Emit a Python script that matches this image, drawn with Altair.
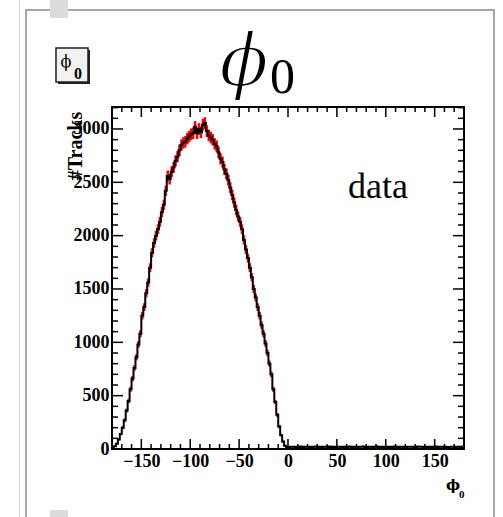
import altair as alt
import numpy as np
import pandas as pd

# Histogram of phi0 (degrees), 2-degree bins over [-180, 180)
phi_lo, phi_hi, bin_w = -180, 180, 2
y_top = 3206

counts_neg = [
    5, 25, 50, 90, 140, 200, 270, 360, 450, 560,
    660, 760, 860, 980, 1080, 1250, 1330, 1460, 1560, 1700,
    1840, 1930, 2000, 2060, 2130, 2220, 2290, 2420, 2560, 2530,
    2600, 2640, 2700, 2740, 2800, 2850, 2870, 2880, 2910, 2930,
    2950, 2960, 3020, 2960, 3000, 2970, 3040, 3055, 2980, 2940,
    2920, 2900, 2860, 2840, 2780, 2720, 2690, 2620, 2580, 2520,
    2450, 2380, 2310, 2240, 2180, 2130, 2060, 1960, 1870, 1790,
    1700, 1610, 1500, 1420, 1330, 1250, 1160, 1080, 990, 900,
    800, 700, 560, 440, 320, 210, 130, 70, 30, 12,
]
counts_pos = [
    18, 22, 20, 17, 21, 19, 23, 18, 20, 22,
    19, 21, 17, 20, 24, 18, 21, 19, 22, 20,
    18, 23, 19, 21, 17, 20, 22, 18, 21, 19,
    20, 23, 18, 22, 19, 17, 21, 20, 24, 18,
    19, 22, 20, 18, 21, 23, 19, 20, 17, 22,
    21, 18, 20, 19, 23, 21, 18, 22, 20, 19,
    17, 21, 20, 22, 18, 19, 23, 20, 21, 18,
    22, 19, 20, 18, 21, 24, 19, 20, 22, 18,
    21, 19, 17, 20, 22, 18, 21, 20, 19, 23,
]
counts = counts_neg + counts_pos

x_major = [-150, -100, -50, 0, 50, 100, 150]
x_minor = [v for v in range(-170, 180, 10) if v not in x_major]
y_major = [0, 500, 1000, 1500, 2000, 2500, 3000]
y_minor = [v for v in range(100, 3201, 100) if v not in y_major]

W, H = 352, 342
serif = "Liberation Serif"
greek = "DejaVu Serif"

centers = np.arange(phi_lo + bin_w / 2, phi_hi, bin_w)
hist = pd.DataFrame({"phi": centers, "n": counts})

xs = alt.Scale(domain=[phi_lo, phi_hi], nice=False, zero=False)
ys = alt.Scale(domain=[0, y_top], nice=False)
one = pd.DataFrame({"k": [0]})

# error bars (red) under the black step histogram
errs = alt.Chart(hist).transform_calculate(
    lo="datum.n - sqrt(datum.n)", hi="datum.n + sqrt(datum.n)"
).mark_rule(color="#ff0000", strokeWidth=2.5).encode(
    x=alt.X("phi:Q", scale=xs, axis=alt.Axis(
        values=x_major, ticks=False, domain=False, grid=False, title=None,
        format="d", labelFont=serif, labelFontWeight="bold", labelFontSize=18,
        labelColor="black", labelPadding=3)),
    y=alt.Y("lo:Q", scale=ys, axis=alt.Axis(
        values=y_major, ticks=False, domain=False, grid=False, title=None,
        format="d", labelFont=serif, labelFontWeight="bold", labelFontSize=18,
        labelColor="black", labelPadding=3)),
    y2="hi:Q",
)

line = alt.Chart(hist).mark_line(
    interpolate="step", color="black", strokeWidth=2
).encode(x=alt.X("phi:Q", scale=xs), y=alt.Y("n:Q", scale=ys))


def xticks(vals, length):
    df = pd.DataFrame({"v": vals})
    bot = alt.Chart(df).mark_rule(color="black", strokeWidth=1.5).encode(
        x=alt.X("v:Q", scale=xs), y=alt.value(H), y2=alt.value(H - length))
    top = alt.Chart(df).mark_rule(color="black", strokeWidth=1.5).encode(
        x=alt.X("v:Q", scale=xs), y=alt.value(0), y2=alt.value(length))
    return [bot, top]


def yticks(vals, length):
    df = pd.DataFrame({"v": vals})
    left = alt.Chart(df).mark_rule(color="black", strokeWidth=1.5).encode(
        y=alt.Y("v:Q", scale=ys), x=alt.value(0), x2=alt.value(length))
    right = alt.Chart(df).mark_rule(color="black", strokeWidth=1.5).encode(
        y=alt.Y("v:Q", scale=ys), x=alt.value(W), x2=alt.value(W - length))
    return [left, right]


ticks = xticks(x_major, 10) + xticks(x_minor, 5) + yticks(y_major, 11) + yticks(y_minor, 6)


def label(text, x, y, **kw):
    kw.setdefault("color", "black")
    return alt.Chart(one).mark_text(text=text, **kw).encode(
        x=alt.value(x), y=alt.value(y))


def box(x1, x2, y1, y2, **kw):
    return alt.Chart(one).mark_rect(**kw).encode(
        x=alt.value(x1), x2=alt.value(x2), y=alt.value(y1), y2=alt.value(y2))


# canvas frame decorations
frame = [
    box(-93, -92, -107, 410, color="#d4d4d4"),
    box(-87, -85, -98, 410, color="#a8a8a8"),
    box(-87, 383, -98, -96, color="#a8a8a8"),
    box(381, 383, -98, 410, color="#a8a8a8"),
    box(-62, -44, -107, -89, color="#dcdcdc"),
    box(-62, -44, 403, 410, color="#dcdcdc"),
]

texts = [
    # large italic phi, thinned slightly with a white outline
    label("ϕ", 132, -21, font=greek, fontStyle="italic", fontSize=72,
          align="center", baseline="alphabetic", stroke="white", strokeWidth=2),
    label("0", 158, -14, font=serif, fontSize=50, align="left",
          baseline="alphabetic"),
    label("data", 236, 91, font=serif, fontSize=36, align="left",
          baseline="alphabetic"),
    label("#Tracks", -36, 39, font=serif, fontWeight="bold", fontSize=20,
          angle=270, align="center", baseline="middle"),
    label("ϕ", 334, 383, font=greek, fontWeight="bold", fontSize=15,
          align="left", baseline="alphabetic"),
    label("0", 347, 391, font=serif, fontWeight="bold", fontSize=11,
          align="left", baseline="alphabetic"),
]

# small name tag at the top left
tag = [
    box(-54, -22, -57, -23, color="#222222"),
    box(-56, -24, -59, -25, fill="#f2f2f2", stroke="#222222", strokeWidth=1.5),
    label("ϕ", -46, -40, font=greek, fontSize=16, align="center",
          baseline="alphabetic"),
    label("0", -34, -28, font=serif, fontWeight="bold", fontSize=16,
          align="center", baseline="alphabetic"),
]

chart = alt.layer(
    *frame, *tag, errs, line, *ticks, *texts
).properties(
    width=W, height=H,
    padding={"left": 112, "top": 107, "right": 39, "bottom": 68},
    autosize=alt.AutoSizeParams(type="none"),
    background="white",
).configure_view(stroke="black", strokeWidth=2)

chart.save("out.html", embed_options={"renderer": "svg", "actions": False})
